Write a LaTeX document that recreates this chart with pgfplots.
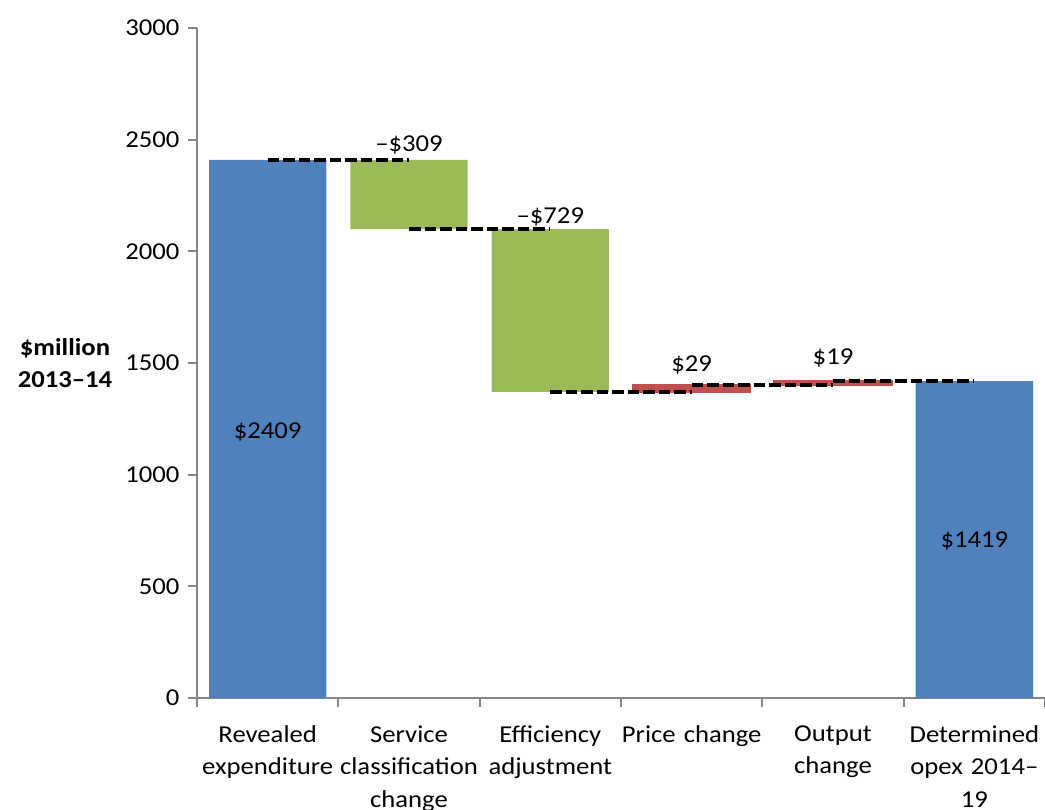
\documentclass[border=0pt]{standalone}
\usepackage{pgfplots}
\pgfplotsset{compat=1.18}
\usepackage{fontspec}
\setmainfont{Carlito}[FakeStretch=1.1]

\definecolor{wblue}{HTML}{4F81BD}
\definecolor{wgreen}{HTML}{9BBB59}
\definecolor{wred}{HTML}{C0504D}
\definecolor{axisgray}{HTML}{868686}

\newcommand{\lbl}{\fontsize{9.7}{13}\selectfont}

\pgfplotsset{
  wf/.style={scale only axis, width=339.2pt, height=268pt,
    xmin=-0.5, xmax=5.5, ymin=0, ymax=3000},
  step/.style={black, line width=1.6pt, dash pattern=on 4.6pt off 1.6pt, no markers},
}

\begin{document}
\begin{tikzpicture}
% bars
\begin{axis}[wf,
    ybar stacked, bar width=0.83,
    axis lines*=left,
    axis line style={draw=axisgray, line width=0.8pt},
    tick style={draw=axisgray, line width=0.8pt},
    tick align=outside, major tick length=3.5pt,
    ytick={0,500,...,3000},
    scaled y ticks=false,
    /pgf/number format/1000 sep={},
    /pgf/number format/assume math mode=true,
    y tick label style={font=\lbl},
    xtick={-0.5,0.5,...,5.5},
    xticklabels={{Revealed\\expenditure},{Service\\classification\\change},{Efficiency\\adjustment},{Price change},{Output\\change},{Determined\\opex 2014--\\19},{}},
    x tick label style={font=\lbl, xshift=28.27pt, yshift=-4pt, align=center, text width=62pt, anchor=north},
  ]
% invisible base
\addplot[fill=none, draw=none] coordinates {(0,0) (1,2100) (2,1371) (3,1371) (4,1400) (5,0)};
% totals
\addplot[fill=wblue, draw=none] coordinates {(0,2409) (1,0) (2,0) (3,0) (4,0) (5,1419)};
% decreases
\addplot[fill=wgreen, draw=none] coordinates {(0,0) (1,309) (2,729) (3,0) (4,0) (5,0)};
% increases
\addplot[fill=wred, draw=wred, line width=0.8pt] coordinates {(0,0) (1,0) (2,0) (3,29) (4,19) (5,0)};
\end{axis}

% connectors and labels
\begin{axis}[wf, axis lines=none, clip=false]
\addplot[step] coordinates {(0,2409) (1,2409)};
\addplot[step] coordinates {(1,2100) (2,2100)};
\addplot[step] coordinates {(2,1371) (3,1371)};
\addplot[step] coordinates {(3,1400) (4,1400)};
\addplot[step] coordinates {(4,1419) (5,1419)};

\node[font=\lbl] at (axis cs:0,1191) {\$2409};
\node[font=\lbl] at (axis cs:1,2476) {--\$309};
\node[font=\lbl] at (axis cs:2,2154) {--\$729};
\node[font=\lbl] at (axis cs:3,1491) {\$29};
\node[font=\lbl] at (axis cs:4,1522) {\$19};
\node[font=\lbl] at (axis cs:5,703) {\$1419};

\node[font=\lbl\bfseries, align=center, xshift=-52.8pt] at (rel axis cs:0,0.5) {\$million\\2013--14};

\coordinate (ll) at (rel axis cs:0,0);
\coordinate (ur) at (rel axis cs:1,1);
\end{axis}
\pgfresetboundingbox
\path ([shift={(-78.8pt,-44.4pt)}]ll) rectangle ([shift={(0pt,11.2pt)}]ur);
\end{tikzpicture}
\end{document}
